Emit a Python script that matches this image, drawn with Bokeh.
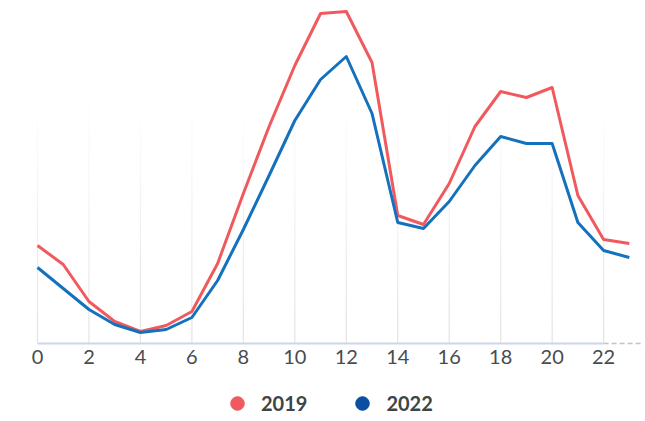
from bokeh.plotting import figure
from bokeh.models import Legend, LegendItem, Range1d
from bokeh.core.properties import value
from bokeh.embed import file_html
from bokeh.resources import INLINE

hours = list(range(24))
v2019 = [98, 79, 42, 22, 12, 18, 32, 80, 150, 217, 278, 330, 332, 281,
         128, 119, 160, 217, 252, 246, 256, 148, 104, 100]
v2022 = [76, 55, 34, 19, 11, 14, 26, 63, 114, 168, 223, 264, 287, 230,
         121, 115, 142, 178, 207, 200, 200, 121, 93, 86]
ticks = list(range(0, 23, 2))
tick_labels = [str(t) for t in ticks]
series_names = ["2019", "2022"]

RED = "#f05a5f"
BLUE = "#1471bd"
BLUE_LEG = "#0c4ea2"
X_START = -1.438
X_END = 23.55
Y_END = 335
Y_START = -77

p = figure(frame_width=643, frame_height=412, output_backend="svg", toolbar_location=None,
           x_range=Range1d(X_START, X_END), y_range=Range1d(Y_START, Y_END),
           x_axis_location=None, y_axis_location=None,
           min_border_left=0, min_border_right=0,
           min_border_top=8, min_border_bottom=0)
p.outline_line_color = None
p.background_fill_color = "white"
p.border_fill_color = "white"
p.xgrid.visible = False
p.ygrid.visible = False

# fading vertical grid lines
nb = 16
top = 240
n = len(ticks)
for i in range(nb):
    y0 = top * i / nb
    y1 = top * (i + 1) / nb
    a = 1.0 - (i + 0.5) / nb
    p.segment(x0=ticks, y0=[y0] * n, x1=ticks, y1=[y1] * n,
              line_color="#e2e2e2", line_width=1.2, line_alpha=a)

# axis line (solid over the ticked range, dashed beyond)
p.segment(x0=[ticks[-1]], y0=[0], x1=[X_END], y1=[0], line_color="#c4c4c4",
          line_width=1.5, line_dash="5 3")
p.segment(x0=[ticks[0]], y0=[0], x1=[ticks[-1]], y1=[0], line_color="#ccd6eb",
          line_width=2)

# tick labels
p.text(x=ticks, y=[0] * n, text=tick_labels, text_align="center",
       text_baseline="top", y_offset=6, text_font=value("Lato"),
       text_font_size="20px", text_color="#474c50")

p.line(hours, v2019, line_color=RED, line_width=3, line_join="round")
p.line(hours, v2022, line_color=BLUE, line_width=3, line_join="round")

nan = float("nan")
r1 = p.scatter([nan], [nan], marker="circle", fill_color=RED, line_color=RED)
r2 = p.scatter([nan], [nan], marker="circle", fill_color=BLUE_LEG, line_color=BLUE_LEG)
legend = Legend(items=[LegendItem(label=series_names[0], renderers=[r1]),
                       LegendItem(label=series_names[1], renderers=[r2])],
                orientation="horizontal", location=(219, 0),
                glyph_width=36, glyph_height=34, label_standoff=6, spacing=37,
                label_text_font="Lato", label_text_font_style="bold",
                label_text_font_size="20px", label_text_color="#3d4548",
                border_line_color=None, background_fill_alpha=0,
                padding=0, margin=0)
p.add_layout(legend, "center")

open("out.html", "w").write(file_html(p, INLINE))
